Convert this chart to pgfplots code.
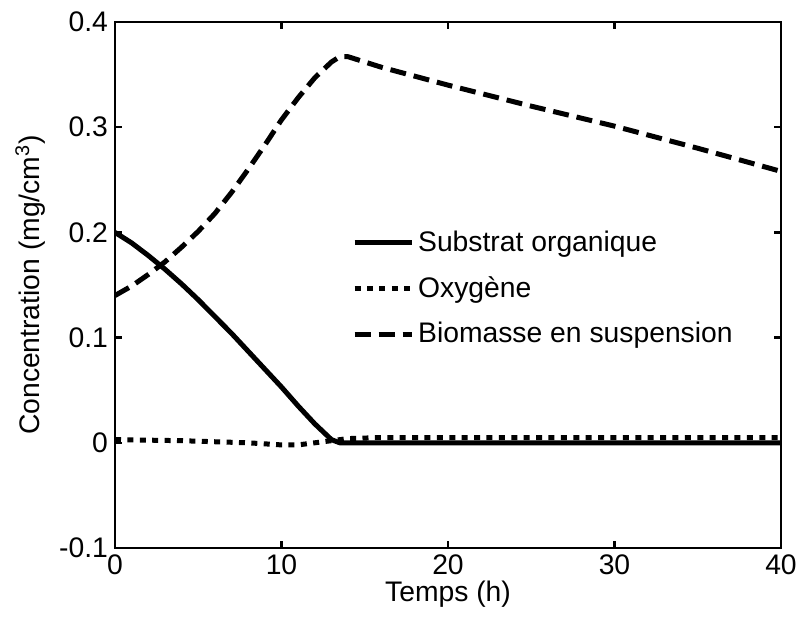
\documentclass[border=0pt]{standalone}
\usepackage{pgfplots}
\pgfplotsset{compat=1.18}
\usepackage{fontspec}
\setmainfont{Liberation Sans}

% Concentration profiles (mg/cm^3) versus time (h)
\pgfplotstableread{
t     S
0     0.200
1     0.190
2     0.178
3     0.165
4     0.151
5     0.136
6     0.120
7     0.104
8     0.087
9     0.070
10    0.053
11    0.035
12    0.018
13    0.003
13.5  0.000
40    0.000
}\substrat

\pgfplotstableread{
t     O
0     0.003
4     0.002
8     0.000
10    -0.002
11    -0.002
12    0.000
13    0.002
14    0.004
16    0.005
40    0.005
}\oxygene

\pgfplotstableread{
t     X
0     0.140
1     0.149
2     0.160
3     0.172
4     0.186
5     0.201
6     0.218
7     0.238
8     0.260
9     0.283
10    0.307
11    0.328
12    0.347
13    0.362
13.5  0.367
14    0.367
16    0.357
20    0.340
25    0.320
30    0.301
35    0.280
40    0.258
}\biomasse

\begin{document}
\begin{tikzpicture}
\begin{axis}[
  scale only axis,
  width=333bp, height=263bp,
  xmin=0, xmax=40, ymin=-0.1, ymax=0.4,
  xtick={0,10,20,30,40},
  ytick={-0.1,0,0.1,0.2,0.3,0.4},
  yticklabel style={/pgf/number format/fixed,/pgf/number format/precision=1},
  /pgf/number format/assume math mode=true,
  tick align=inside,
  major tick length=3.5bp,
  axis line style={line width=1.4bp},
  every tick/.style={black, line width=1.2bp},
  tick label style={font=\fontsize{14.2}{16}\selectfont},
  label style={font=\fontsize{14.2}{16}\selectfont},
  xlabel={Temps (h)},
  ylabel={Concentration (mg/cm\textsuperscript{3})},
  xlabel style={yshift=4bp},
  legend cell align=left,
  legend style={draw=none, fill=none, font=\fontsize{14.2}{16}\selectfont,
    at={(0.3555,0.611)}, anchor=north west, row sep=7bp, inner sep=0pt},
  legend image code/.code={\draw[#1] (0bp,0bp) -- (28.5bp,0bp);},
]
\addplot[black, line width=2.5bp, line join=round] table[x=t, y=S] {\substrat};
\addlegendentry{Substrat organique}
\addplot[black, line width=2.5bp, dash pattern=on 3bp off 3.2bp] table[x=t, y=O] {\oxygene};
\addlegendentry{Oxygène}
\addplot[black, line width=2.5bp, dash pattern=on 8bp off 4bp, line join=round] table[x=t, y=X] {\biomasse};
\addlegendentry{Biomasse en suspension}
\end{axis}
\pgfresetboundingbox
\path ([shift={(-57.5bp,-36.5bp)}]current axis.south west) rectangle ([shift={(11.5bp,11bp)}]current axis.north east);
\end{tikzpicture}
\end{document}
